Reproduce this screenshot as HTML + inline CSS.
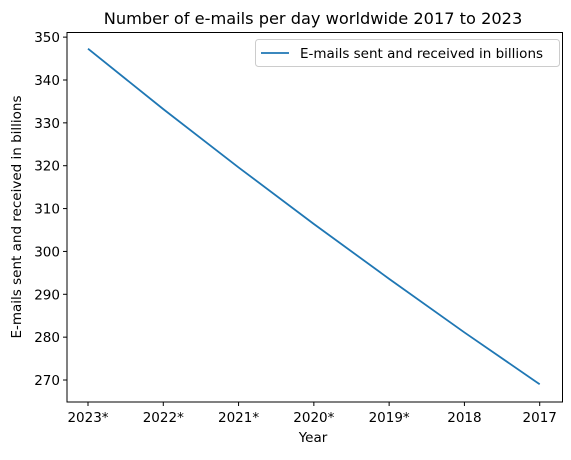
<!DOCTYPE html>
<html><head><meta charset="utf-8"><style>
body{margin:0;background:#fff;}
svg text{font-family:"DejaVu Sans","Liberation Sans",sans-serif;fill:#000;}
</style></head><body>
<svg id="chart" width="571" height="455" viewBox="0 0 571 455" xmlns="http://www.w3.org/2000/svg">
<text x="313" y="24" font-size="16.2" text-anchor="middle">Number of e-mails per day worldwide 2017 to 2023</text>
<g id="axes"></g>
<text x="313" y="442" font-size="13.5" text-anchor="middle">Year</text>
<text transform="translate(21,217) rotate(-90)" font-size="13.5" text-anchor="middle">E-mails sent and received in billions</text>
<g>
<rect x="255.5" y="39.5" width="304" height="27" rx="3" fill="#fff" stroke="#ccc"/>
<line x1="261" y1="53" x2="289" y2="53" stroke="#1f77b4" stroke-width="1.8"/>
<text x="300" y="58" font-size="13.5">E-mails sent and received in billions</text>
</g>
</svg>
<script>
const categories = ["2023*","2022*","2021*","2020*","2019*","2018","2017"];
const values = [347.3,333.2,319.6,306.4,293.6,281.1,269];
const yTicks = [270,280,290,300,310,320,330,340,350];
const NS="http://www.w3.org/2000/svg";
const L=67,R=562.5,T=32.5,B=402;
const x0=88,x1=539.7;
function xs(i){return x0+(x1-x0)*i/(categories.length-1);}
const yMin=269,yMax=347.3,yTop=48.7,yBot=384.3;
function ys(v){return yBot-(v-yMin)*(yBot-yTop)/(yMax-yMin);}
const g=document.getElementById('axes');
function mk(t,a){const e=document.createElementNS(NS,t);for(const k in a)e.setAttribute(k,a[k]);g.appendChild(e);return e;}
const frame=mk('rect',{x:L,y:T,width:R-L,height:B-T,fill:'none',stroke:'#000','stroke-width':1});


yTicks.forEach(v=>{const y=ys(v);
 const tk=mk('line',{x1:L-4,x2:L,y1:y,y2:y,stroke:'#000'});
 
 
 const t=mk('text',{x:L-7,y:y+5,'font-size':13.5,'text-anchor':'end'});t.textContent=v;
 
 
});
categories.forEach((c,i)=>{const x=xs(i);
 const tk=mk('line',{x1:x,x2:x,y1:B,y2:B+4,stroke:'#000'});
 
 
 const t=mk('text',{x:x,y:B+20,'font-size':13.5,'text-anchor':'middle'});t.textContent=c;
 
 
});
const pts=values.map((v,i)=>xs(i)+','+ys(v)).join(' ');
const line=mk('polyline',{points:pts,fill:'none',stroke:'#1f77b4','stroke-width':1.8});


</script>
</body></html>
